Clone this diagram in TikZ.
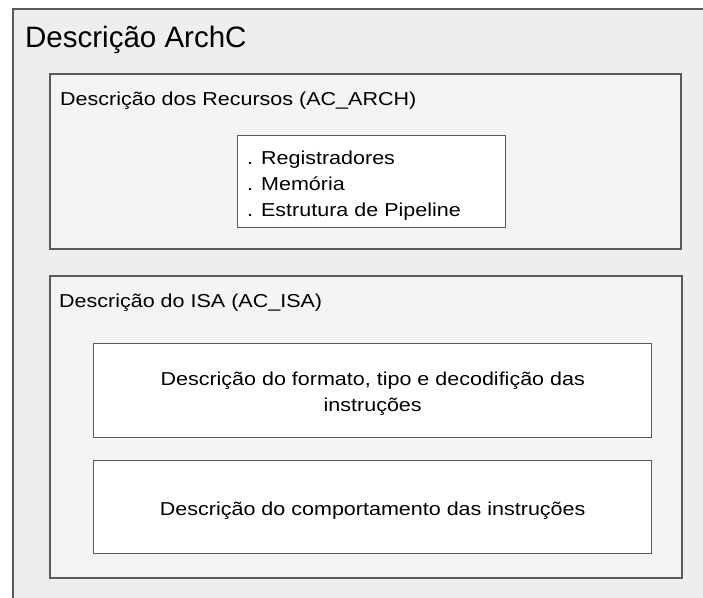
\documentclass[tikz,border=0pt]{standalone}
\usepackage{fontspec}
\setmainfont{Liberation Sans}
\newfontfamily\boxfont{Liberation Sans}[FakeStretch=1.15]
\usetikzlibrary{positioning}
\definecolor{framegray}{HTML}{5A5A5A}
\definecolor{outerfill}{HTML}{EEEEEE}
\definecolor{groupfill}{HTML}{F4F4F4}
\tikzset{outerbox/.style={draw=framegray,line width=1.6pt,fill=outerfill,rectangle,anchor=north west,inner sep=0},
    groupbox/.style={draw=framegray,line width=1.6pt,fill=groupfill,rectangle,anchor=north west,inner sep=0},
    itembox/.style={draw=framegray,line width=1.4pt,fill=white,rectangle,anchor=north west,inner sep=0},
    boxtitle/.style={anchor=base west,inner sep=0,font=\boxfont\fontsize{18.7}{22}\selectfont},
    boxtext/.style={align=center,inner sep=0,font=\boxfont\fontsize{18.7}{25.5}\selectfont}
}

\begin{document}
\begin{tikzpicture}[x=1pt,y=-1pt]
\useasboundingbox (0,0) rectangle (703,597);
\clip (0,0) rectangle (703,597);

% ArchC description, frame runs off the page

\node (archc) at (12,8) [outerbox,minimum width=720,minimum height=620] {};
\node (archctitle) at (25,47) [anchor=base west,inner sep=0,font=\fontsize{29.5}{34}\selectfont] {Descrição ArchC};

% resources

\node (recursos) at (49,73) [groupbox,minimum width=631,minimum height=175] {};
\node (recursostitle) at (60,105) [boxtitle] {Descrição dos Recursos (AC\_ARCH)};

\node (lista) at (237,135) [itembox,minimum width=268,minimum height=92] {};
\node (listatext) at (247,216) [anchor=base west,inner sep=0,align=left,font=\boxfont\fontsize{18.7}{26}\selectfont]
    {. Registradores\\. Memória\\. Estrutura de Pipeline};

% ISA

\node (isa) at (49,275) [groupbox,minimum width=632,minimum height=302] {};
\node (isatitle) at (59,307) [boxtitle] {Descrição do ISA (AC\_ISA)};

\node (formato) at (93,343) [itembox,minimum width=558,minimum height=94] {};
\node (formatotext) at ([yshift=-3pt]formato.center) [boxtext] {Descrição do formato, tipo e decodifição das\\instruções};

\node (comport) at (93,460) [itembox,minimum width=558,minimum height=93] {};
\node (comporttext) at ([yshift=-3pt]comport.center) [boxtext] {Descrição do comportamento das instruções};

\end{tikzpicture}
\end{document}
